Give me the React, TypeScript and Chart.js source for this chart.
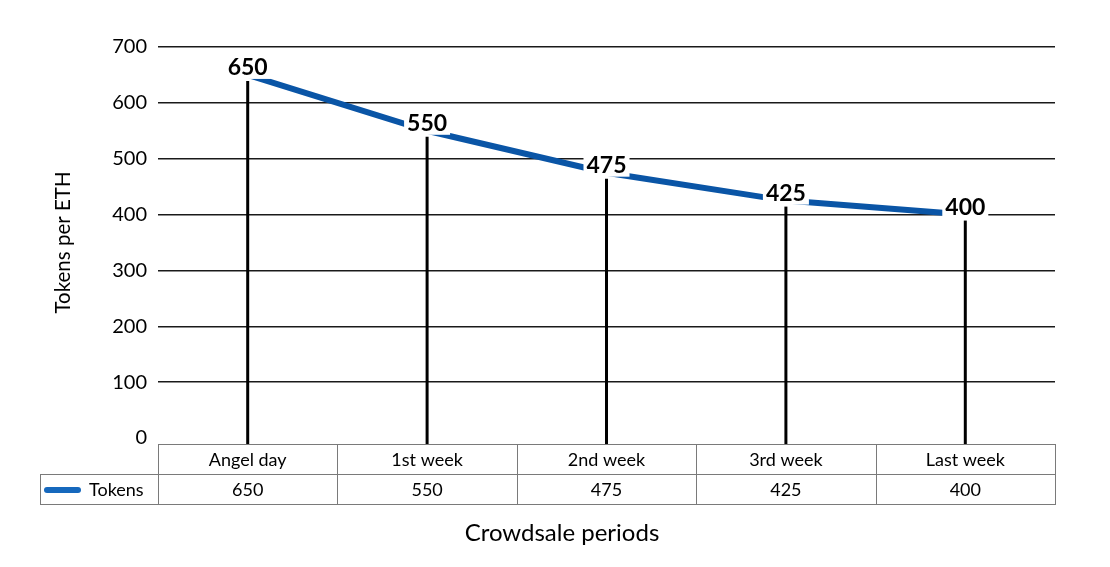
import React, { useEffect, useRef } from "react";
import { Chart, registerables } from "chart.js";

Chart.register(...registerables);

// ---- data ----
const categories = ["Angel day", "1st week", "2nd week", "3rd week", "Last week"];
const seriesName = "Tokens";
const tokens = [650, 550, 475, 425, 400];
const yMin = 0;
const yMax = 700;
const yStep = 100;
const yTitle = "Tokens per ETH";
const xTitle = "Crowdsale periods";

const FONT = "Lato";
const LINE_COLOR = "#0a55a6";
const SWATCH_COLOR = "#1668bd";

const tablePlugin = {
  id: "dropLinesAndTable",
  afterDatasetsDraw(chart: any) {
    const { ctx, chartArea } = chart;
    const meta = chart.getDatasetMeta(0);
    const tableTop = chartArea.bottom + 6;
    ctx.save();
    ctx.font = `bold 23px ${FONT}`;
    ctx.textAlign = "center";
    ctx.textBaseline = "middle";
    meta.data.forEach((pt: any, i: number) => {
      const t = String(tokens[i]);
      const w = ctx.measureText(t).width;
      const cy = pt.y - 8;
      ctx.fillStyle = "#fff";
      ctx.fillRect(pt.x - w / 2 - 3, cy - 10, w + 6, 22);
      ctx.strokeStyle = "#000";
      ctx.lineWidth = 3;
      ctx.beginPath();
      ctx.moveTo(pt.x, cy + 14);
      ctx.lineTo(pt.x, tableTop);
      ctx.stroke();
      ctx.fillStyle = "#000";
      ctx.fillText(t, pt.x, cy + 1);
    });
    ctx.restore();
  },
  afterDraw(chart: any) {
    const { ctx, chartArea } = chart;
    const left = chartArea.left;
    const right = chartArea.right;
    const top = chartArea.bottom + 6;
    const rowH = 30;
    const legendLeft = left - 118;
    const n = categories.length;
    const colW = (right - left) / n;
    ctx.save();
    ctx.strokeStyle = "#7a7a7a";
    ctx.lineWidth = 1;
    ctx.strokeRect(left + 0.5, top + 0.5, right - left, rowH);
    ctx.strokeRect(legendLeft + 0.5, top + rowH + 0.5, right - legendLeft, rowH);
    for (let i = 0; i <= n; i++) {
      const x = Math.round(left + i * colW) + 0.5;
      ctx.beginPath();
      ctx.moveTo(x, top);
      ctx.lineTo(x, top + 2 * rowH);
      ctx.stroke();
    }
    ctx.fillStyle = "#000";
    ctx.font = `18px ${FONT}`;
    ctx.textAlign = "center";
    ctx.textBaseline = "middle";
    categories.forEach((c, i) => {
      const cx = left + (i + 0.5) * colW;
      ctx.fillText(c, cx, top + rowH / 2 + 1);
      ctx.fillText(String(tokens[i]), cx, top + rowH * 1.5 + 1);
    });
    const ly = top + rowH * 1.5 + 1;
    ctx.strokeStyle = SWATCH_COLOR;
    ctx.lineWidth = 6;
    ctx.lineCap = "round";
    ctx.beginPath();
    ctx.moveTo(legendLeft + 7, ly);
    ctx.lineTo(legendLeft + 38, ly);
    ctx.stroke();
    ctx.textAlign = "left";
    ctx.fillText(seriesName, legendLeft + 49, ly);
    ctx.font = `24px ${FONT}`;
    ctx.textAlign = "center";
    ctx.fillText(xTitle, chart.width / 2 + 7, 533);
    ctx.restore();
  },
};

export default function App() {
  const ref = useRef<HTMLCanvasElement | null>(null);
  useEffect(() => {
    let chart: Chart | null = null;
    let cancelled = false;
    const make = () => {
      if (cancelled || !ref.current) return;
      Chart.defaults.font.family = FONT;
      chart = new Chart(ref.current, {
        type: "line",
        data: {
          labels: categories,
          datasets: [
            {
              label: seriesName,
              data: tokens,
              borderColor: LINE_COLOR,
              backgroundColor: LINE_COLOR,
              borderWidth: 6,
              pointRadius: 0,
              tension: 0,
            },
          ],
        },
        options: {
          animation: false,
          responsive: false,
          layout: { padding: { left: 0, right: 55, top: 47, bottom: 0 } },
          plugins: {
            legend: { display: false },
            tooltip: { enabled: false },
          },
          scales: {
            x: {
              type: "category",
              offset: true,
              grid: { display: false },
              border: { display: false },
              ticks: { display: false },
              afterFit: (s: any) => {
                s.height = 129;
              },
            },
            y: {
              min: yMin,
              max: yMax,
              ticks: {
                stepSize: yStep,
                color: "#000",
                font: { size: 20, family: FONT },
                padding: 11,
              },
              grid: {
                drawTicks: false,
                color: (c: any) => (c.tick && c.tick.value === 0 ? "rgba(0,0,0,0)" : "#1a1a1a"),
                lineWidth: 1.5,
              },
              border: { display: false },
              title: {
                display: true,
                text: yTitle,
                color: "#000",
                font: { size: 20.5, family: FONT },
                padding: { top: 51, bottom: 0 },
              },
              afterFit: (s: any) => {
                s.width = 158;
              },
            },
          },
        },
        plugins: [tablePlugin],
      });
    };
    const fonts: any = (document as any).fonts;
    if (fonts && fonts.load) {
      Promise.all([
        fonts.load(`19px ${FONT}`),
        fonts.load(`bold 22px ${FONT}`),
      ]).then(make, make);
    } else {
      make();
    }
    return () => {
      cancelled = true;
      if (chart) chart.destroy();
    };
  }, []);
  return (
    <div style={{ position: "absolute", left: 0, top: 0, width: 1110, height: 567, background: "#fff" }}>
      <canvas ref={ref} width={1110} height={567} style={{ width: 1110, height: 567 }} />
    </div>
  );
}
